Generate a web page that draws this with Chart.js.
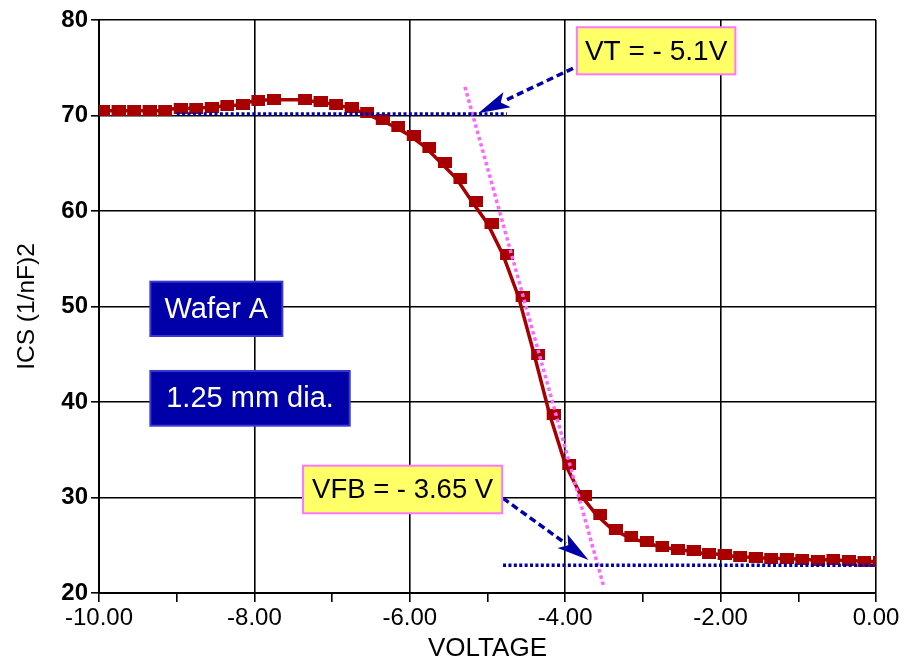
<!DOCTYPE html>
<html><head><meta charset="utf-8">
<script src="https://cdn.jsdelivr.net/npm/chart.js@4/dist/chart.umd.min.js"></script>
<style>html,body{margin:0;padding:0;background:#fff}#wrap{width:904px;height:662px}</style>
</head><body><div id="wrap"><canvas id="c" width="904" height="662"></canvas></div>
<script>
// ---- data ----
const voltage = [-10,-9.8,-9.6,-9.4,-9.2,-9.0,-8.8,-8.6,-8.4,-8.2,-8.0,-7.8,-7.4,-7.2,-7.0,-6.8,-6.6,-6.4,-6.2,-6.0,-5.8,-5.6,-5.4,-5.2,-5.0,-4.8,-4.6,-4.4,-4.2,-4.0,-3.8,-3.6,-3.4,-3.2,-3.0,-2.8,-2.6,-2.4,-2.2,-2.0,-1.8,-1.6,-1.4,-1.2,-1.0,-0.8,-0.6,-0.4,-0.2,0];
const ics = [70.5,70.5,70.5,70.5,70.5,70.75,70.75,70.85,71.0,71.1,71.55,71.65,71.65,71.45,71.2,70.85,70.3,69.6,68.85,67.9,66.7,65.05,63.4,61.0,58.7,55.4,51.0,45.0,38.7,33.5,30.25,28.2,26.7,25.9,25.35,24.9,24.6,24.4,24.1,24.05,23.8,23.75,23.65,23.6,23.55,23.45,23.5,23.4,23.35,23.3];
const vtLineX = [-9.0, -4.75];
const vtLineY = [70.15, 70.15];
const vfbLineX = [-4.8, 0];
const vfbLineY = [22.9, 22.9];
const tangentX = [-5.29, -3.51];
const tangentY = [73.0, 20.85];
const xTickValues = [-10,-9,-8,-7,-6,-5,-4,-3,-2,-1,0];
const yTickValues = [20,30,40,50,60,70,80];
const noteTexts = ['VT = - 5.1V', 'VFB = - 3.65 V', 'Wafer A', '1.25 mm dia.'];

const pts = (xs, ys) => xs.map((v,i)=>({x:v, y:ys[i]}));

// marker: square drawn slightly right of the data point, as in the reference
function makeMarker(){
  const c = document.createElement('canvas');
  c.width = 22; c.height = 11;
  const g = c.getContext('2d');
  g.fillStyle = '#a80000';
  g.fillRect(8, 0, 14, 11);
  return c;
}
const marker = makeMarker();

const BLUE = '#0000a8';
const notes = {
  arrows: [
    {from:[-3.9, 74.94], to:[-5.12, 70.23]},
    {from:[-4.80, 29.92], to:[-3.70, 23.46]}
  ],
  boxes: [
    {x1:-3.85, y1:79.24, x2:-1.81, y2:74.31, text:noteTexts[0], fill:'#ffff66', stroke:'#ff77ff', color:'#000', size:28},
    {x1:-7.374, y1:33.33, x2:-4.811, y2:28.35, text:noteTexts[1], fill:'#ffff66', stroke:'#ff77ff', color:'#000', size:27.5},
    {x1:-9.339, y1:52.6, x2:-7.64, y2:46.91, text:noteTexts[2], fill:BLUE, stroke:'#3a3ad0', color:'#fff', size:29},
    {x1:-9.339, y1:43.25, x2:-6.773, y2:37.52, text:noteTexts[3], fill:BLUE, stroke:'#3a3ad0', color:'#fff', size:29}
  ]
};

const FONT = '"Liberation Sans", Arial, Helvetica, sans-serif';

const notePlugin = {
  id: 'notes',
  afterDatasetsDraw(chart){
    const {ctx, scales:{x, y}} = chart;
    const px = v => x.getPixelForValue(v), py = v => y.getPixelForValue(v);
    ctx.save();
    notes.arrows.forEach(a=>{
      const sx = px(a.from[0]), sy = py(a.from[1]);
      const tx = px(a.to[0]), ty = py(a.to[1]);
      const ang = Math.atan2(ty-sy, tx-sx);
      const L = 32, W = 8.5;
      const bx = tx - L*Math.cos(ang), by = ty - L*Math.sin(ang);
      ctx.strokeStyle = BLUE; ctx.lineWidth = 3.5;
      ctx.setLineDash([7,4]);
      ctx.beginPath(); ctx.moveTo(sx, sy); ctx.lineTo(bx+4*Math.cos(ang), by+4*Math.sin(ang)); ctx.stroke();
      ctx.setLineDash([]);
      ctx.fillStyle = BLUE;
      ctx.beginPath();
      ctx.moveTo(tx, ty);
      ctx.lineTo(bx - W*Math.sin(ang), by + W*Math.cos(ang));
      ctx.lineTo(bx + 7*Math.cos(ang), by + 7*Math.sin(ang));
      ctx.lineTo(bx + W*Math.sin(ang), by - W*Math.cos(ang));
      ctx.closePath(); ctx.fill();
    });
    notes.boxes.forEach(b=>{
      const x1 = px(b.x1), x2 = px(b.x2), y1 = py(b.y1), y2 = py(b.y2);
      ctx.fillStyle = b.fill;
      ctx.fillRect(x1, y1, x2-x1, y2-y1);
      ctx.strokeStyle = b.stroke; ctx.lineWidth = 2;
      ctx.strokeRect(x1, y1, x2-x1, y2-y1);
      ctx.fillStyle = b.color;
      ctx.font = b.size + 'px ' + FONT;
      ctx.textAlign = 'center'; ctx.textBaseline = 'middle';
      ctx.fillText(b.text, (x1+x2)/2, (y1+y2)/2 + 1);
    });
    ctx.restore();
  }
};

new Chart(document.getElementById('c'), {
  type: 'line',
  data: {
    datasets: [
      {data: pts(vtLineX, vtLineY), borderColor: BLUE, borderWidth: 3.5, borderDash:[3,2.4], pointRadius:0, order:0, borderCapStyle:'butt'},
      {data: pts(vfbLineX, vfbLineY), borderColor: BLUE, borderWidth: 3.5, borderDash:[3,2.4], pointRadius:0, order:0, borderCapStyle:'butt'},
      {data: pts(tangentX, tangentY), borderColor: '#ff66ff', borderWidth: 3.5, borderDash:[3.5,3], pointRadius:0, order:1},
      {data: pts(voltage, ics), showLine:false, pointStyle: marker, pointRadius: 7, order:2},
      {data: pts(voltage, ics), borderColor: '#a80000', borderWidth: 3.5, pointRadius:0, tension:0, order:3}
    ]
  },
  options: {
    responsive: false,
    animation: false,
    devicePixelRatio: 1,
    layout: {padding: {left: 0, right: 28, top: 20, bottom: 0}},
    plugins: {legend: {display:false}, tooltip: {enabled:false}},
    scales: {
      x: {
        type: 'linear', min: -10, max: 0,
        afterBuildTicks: s => { s.ticks = xTickValues.map(v=>({value:v})); },
        afterFit: s => { s.height = 69; },
        ticks: {
          autoSkip: false, maxRotation: 0, padding: 2,
          color: '#000', font: {family: FONT, size: 24},
          callback: v => (Math.abs(v) % 2 === 0) ? v.toFixed(2) : ''
        },
        grid: {
          color: c => (c.tick && Math.abs(c.tick.value) % 2 === 0) ? '#000' : 'rgba(0,0,0,0)',
          tickColor: '#000', lineWidth: 1.6, tickLength: 9
        },
        border: {color: '#000', width: 2},
        title: {display: true, text: 'VOLTAGE', color: '#000', font: {family: FONT, size: 26, lineHeight: 1}, padding: {top: 0, bottom: 0}}
      },
      y: {
        min: 20, max: 80,
        afterBuildTicks: s => { s.ticks = yTickValues.map(v=>({value:v})); },
        afterFit: s => { s.width = 99; },
        ticks: {padding: 3, color: '#000', font: {family: FONT, size: 24, weight: 'bold'}},
        grid: {color: '#000', tickColor: '#000', lineWidth: 1.6, tickLength: 8},
        border: {color: '#000', width: 2},
        title: {display: true, text: 'ICS (1/nF)2', color: '#000', font: {family: FONT, size: 24.5, lineHeight: 1.2}, padding: {top: 13, bottom: 0}}
      }
    }
  },
  plugins: [notePlugin]
});
</script>
</body></html>
